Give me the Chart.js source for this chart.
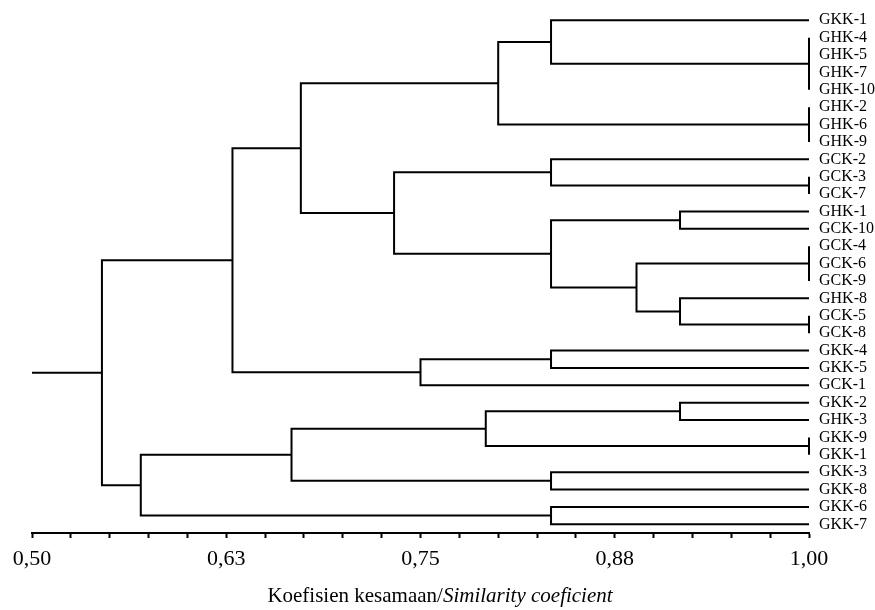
<!DOCTYPE html>
<html>
<head>
<meta charset="utf-8">
<script src="https://cdn.jsdelivr.net/npm/chart.js@4.4.1/dist/chart.umd.min.js"></script>
<style>
  html, body { margin: 0; padding: 0; background: #ffffff; }
  #wrap { position: relative; width: 875px; height: 610px; }
  #c { position: absolute; left: 0; top: 0; }
  #title { position: absolute; left: 0; top: 582px; width: 880px; text-align: center;
           font-family: "Liberation Serif", "Times New Roman", serif; font-size: 21px;
           line-height: 26px; color: #000; }
</style>
</head>
<body>
<div id="wrap">
  <canvas id="c" width="875" height="610"></canvas>
  <div id="title">Koefisien kesamaan/<i>Similarity coeficient</i></div>
</div>
<script>
// Leaf labels, top to bottom
const leafLabels = [
  'GKK-1','GHK-4','GHK-5','GHK-7','GHK-10','GHK-2','GHK-6','GHK-9',
  'GCK-2','GCK-3','GCK-7','GHK-1','GCK-10','GCK-4','GCK-6','GCK-9',
  'GHK-8','GCK-5','GCK-8','GKK-4','GKK-5','GCK-1','GKK-2','GHK-3',
  'GKK-9','GKK-1','GKK-3','GKK-8','GKK-6','GKK-7'
];

// Groups of identical leaves (similarity 1.00): first and last leaf index
const groupFirst = [1, 5, 9, 13, 17, 24];
const groupLast  = [4, 7, 10, 15, 18, 25];

// Merges (in order): children are 'L#' leaf, 'G#' group, 'M#' earlier merge
const mergeA   = ['L0','M0','L8','L11','L16','G3','M3','M2','M1','L19','M9','M8','L22','M12','L26','M13','L28','M15','M11'];
const mergeB   = ['G0','G1','G2','L12','G4','M4','M5','M6','M7','L20','L21','M10','L23','G5','L27','M14','L29','M16','M17'];
const mergeSim = [0.834,0.800,0.834,0.917,0.917,0.889,0.834,0.733,0.673,0.834,0.750,0.629,0.917,0.792,0.834,0.667,0.834,0.570,0.545];

// Axis
const axisMin = 0.50, axisMax = 1.00, minorStep = 0.025;
const majorTicks = [0.50, 0.625, 0.75, 0.875, 1.00];
const majorLabels = ['0,50', '0,63', '0,75', '0,88', '1,00'];

// ---- build line segments from the tree ----
const nodes = {};
leafLabels.forEach((_, i) => { nodes['L' + i] = { x: 1.0, y: i }; });
const pts = [];
const gap = () => pts.push({ x: null, y: null });
groupFirst.forEach((f, k) => {
  const l = groupLast[k];
  nodes['G' + k] = { x: 1.0, y: (f + l) / 2 };
  pts.push({ x: 1.0, y: f }, { x: 1.0, y: l }); gap();
});
mergeSim.forEach((s, k) => {
  const a = nodes[mergeA[k]], b = nodes[mergeB[k]];
  nodes['M' + k] = { x: s, y: (a.y + b.y) / 2 };
  pts.push({ x: a.x, y: a.y }, { x: s, y: a.y }, { x: s, y: b.y }, { x: b.x, y: b.y }); gap();
});
const root = nodes['M' + (mergeSim.length - 1)];
pts.push({ x: axisMin, y: root.y }, { x: root.x, y: root.y });

const xTickValues = [];
for (let v = axisMin; v <= axisMax + 1e-9; v += minorStep) xTickValues.push(Math.round(v * 1000) / 1000);

const serif = '"Liberation Serif", "Times New Roman", serif';

new Chart(document.getElementById('c'), {
  type: 'scatter',
  data: {
    datasets: [{
      data: pts,
      showLine: true,
      spanGaps: false,
      borderColor: '#000',
      borderWidth: 2,
      pointRadius: 0,
      pointHoverRadius: 0,
      tension: 0,
      borderJoinStyle: 'miter',
      clip: false
    }]
  },
  options: {
    responsive: false,
    animation: false,
    events: [],
    layout: { padding: { left: 32, top: 7, right: 0, bottom: 0 } },
    plugins: { legend: { display: false }, tooltip: { enabled: false } },
    scales: {
      x: {
        type: 'linear',
        min: axisMin, max: axisMax,
        afterBuildTicks: (scale) => { scale.ticks = xTickValues.map(v => ({ value: v })); },
        afterFit: (scale) => { scale.height = 77; },
        ticks: {
          autoSkip: false, maxRotation: 0,
          color: '#000', padding: 8,
          font: { family: serif, size: 22 },
          callback: (v) => {
            const i = majorTicks.findIndex(m => Math.abs(m - v) < 1e-6);
            return i >= 0 ? majorLabels[i] : '';
          }
        },
        grid: { display: true, drawOnChartArea: false, drawTicks: true, tickLength: 5, tickWidth: 2, tickColor: '#000' },
        border: { display: true, color: '#000', width: 2 }
      },
      y: {
        type: 'linear',
        position: 'right',
        reverse: true,
        min: -0.5, max: leafLabels.length - 0.5,
        afterBuildTicks: (scale) => { scale.ticks = leafLabels.map((_, i) => ({ value: i })); },
        afterFit: (scale) => { scale.width = 66; },
        ticks: {
          autoSkip: false, color: '#000', padding: 2,
          font: { family: serif, size: 16 },
          callback: (v) => leafLabels[v] !== undefined ? leafLabels[v] : ''
        },
        grid: { display: false },
        border: { display: false }
      }
    }
  }
});
</script>
</body>
</html>
